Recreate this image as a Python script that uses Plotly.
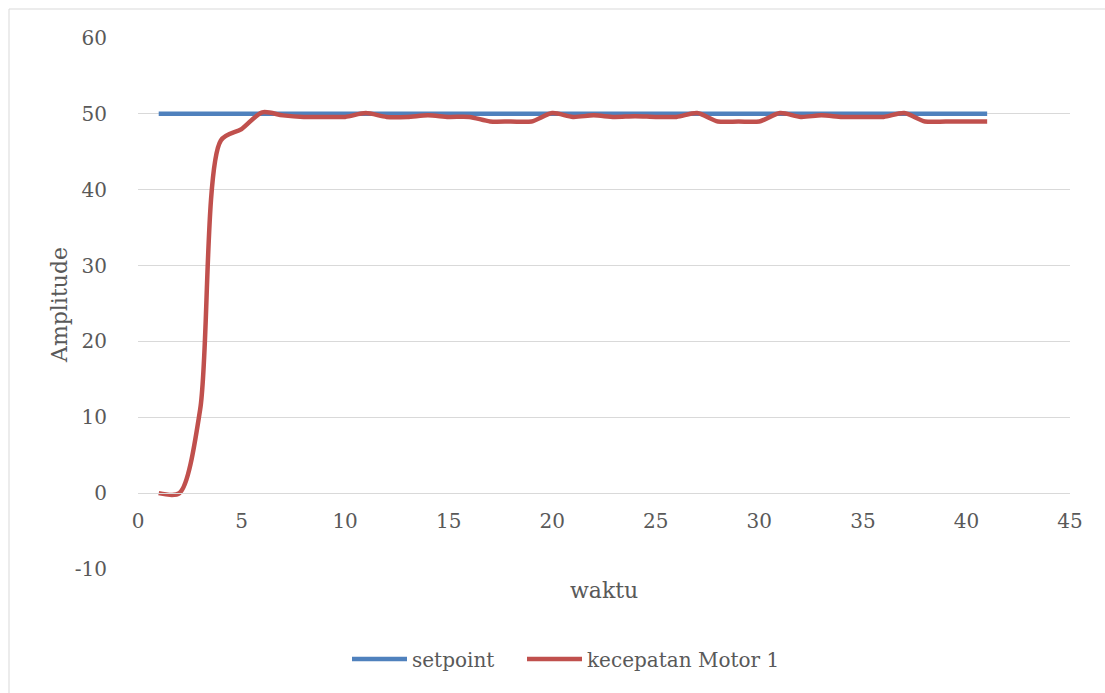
import plotly.graph_objects as go

waktu = list(range(1, 42))
setpoint = [50] * 41
kecepatan_motor_1 = [
    0, 0, 11, 46.5, 48, 50.2, 49.8, 49.6, 49.6, 49.6,
    50.1, 49.6, 49.6, 49.8, 49.6, 49.6, 49.0, 49.0, 49.0, 50.1,
    49.6, 49.8, 49.6, 49.7, 49.6, 49.6, 50.1, 49.0, 49.0, 49.0,
    50.1, 49.6, 49.8, 49.6, 49.6, 49.6, 50.1, 49.0, 49.0, 49.0,
    49.0,
]
x_ticks = [0, 5, 10, 15, 20, 25, 30, 35, 40, 45]
y_ticks = [-10, 0, 10, 20, 30, 40, 50, 60]
y_tick_labels = ["-10", "0", "10", "20", "30", "40", "50", "60"]

FONT = "DejaVu Serif"
GRAY = "#595959"
GRID = "#D9D9D9"

fig = go.Figure()
fig.add_trace(go.Scatter(x=waktu, y=setpoint, mode="lines", name="setpoint",
                         line=dict(color="#4F81BD", width=4.5), legend="legend"))
fig.add_trace(go.Scatter(x=waktu, y=kecepatan_motor_1, mode="lines", name="kecepatan Motor 1",
                         line=dict(color="#C0504D", width=4.5, shape="spline", smoothing=0.8),
                         legend="legend2"))

W, H = 1105, 693
L, R, T, B = 138, 35, 38, 124
pw, ph = W - L - R, H - T - B

def px(xp):
    return (xp - L) / pw

def py(yp):
    return (H - B - yp) / ph

LEG_OFF = 5
legend_common = dict(orientation="h", yanchor="middle", xanchor="left",
                     font=dict(family=FONT, size=20, color=GRAY), itemwidth=55,
                     bgcolor="rgba(0,0,0,0)")

fig.update_layout(
    width=W, height=H,
    margin=dict(l=L, r=R, t=T, b=B),
    paper_bgcolor="white", plot_bgcolor="white",
    font=dict(family=FONT, size=20, color=GRAY),
    showlegend=True,
    legend=dict(x=px(352 - LEG_OFF), y=py(659), **legend_common),
    legend2=dict(x=px(527 - LEG_OFF), y=py(659), **legend_common),
    xaxis=dict(range=[0, 45], tickvals=x_ticks, showgrid=False, zeroline=False,
               anchor="free", position=1/7, showline=True, linecolor=GRID, linewidth=1,
               ticks="outside", ticklen=10, tickcolor="rgba(0,0,0,0)",
               tickfont=dict(family=FONT, size=20, color=GRAY)),
    yaxis=dict(range=[-10, 60], tickvals=y_ticks, ticktext=y_tick_labels,
               showgrid=True, gridcolor=GRID, gridwidth=1,
               zeroline=False, showline=False,
               ticks="outside", ticklen=26, tickcolor="rgba(0,0,0,0)",
               tickfont=dict(family=FONT, size=20, color=GRAY)),
    annotations=[
        dict(text="waktu", x=0.5, y=py(590), xref="paper", yref="paper", showarrow=False,
             xanchor="center", yanchor="middle", font=dict(family=FONT, size=22, color=GRAY)),
        dict(text="Amplitude", x=px(60), y=py(305), xref="paper", yref="paper", showarrow=False,
             textangle=-90, xanchor="center", yanchor="middle",
             font=dict(family=FONT, size=22, color=GRAY)),
    ],
    shapes=[
        dict(type="rect", xref="paper", yref="paper", x0=px(9), x1=px(1115), y0=py(705), y1=py(9),
             line=dict(color=GRID, width=1), fillcolor="rgba(0,0,0,0)", layer="below"),
    ],
)

fig.write_html("out.html", config={"displayModeBar": False},
               post_script="document.body.style.margin='0';document.body.style.padding='0';")
